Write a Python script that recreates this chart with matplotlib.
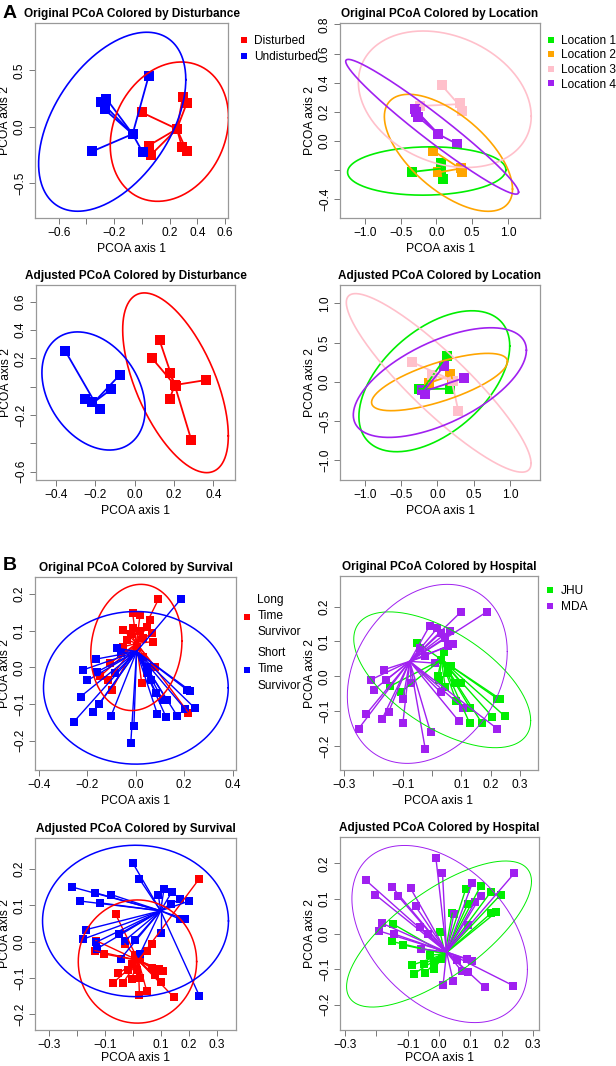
import numpy as np
import matplotlib.pyplot as plt
from matplotlib.lines import Line2D

plt.rcParams['font.family'] = ['Liberation Sans', 'DejaVu Sans']

RED = '#FF0000'
BLUE = '#0000FF'
GREEN = '#00EE00'
ORANGE = '#FFA500'
PINK = '#FFC0CB'
PURPLE = '#A020F0'

# ---- panel A, original PCoA ----
a1_disturbed = [(0.000, 0.126), (0.252, -0.020), (0.295, 0.265), (0.324, 0.212),
                (0.048, -0.168), (0.065, -0.250), (0.288, -0.176), (0.324, -0.220)]
a1_undisturbed = [(0.048, 0.447), (-0.293, 0.220), (-0.257, 0.250), (-0.269, 0.153),
                  (-0.067, -0.065), (-0.360, -0.220), (0.005, -0.226)]
a1_centers = [(0.252, -0.020), (-0.067, -0.065)]
# ellipse: centre x, centre y, half range x, half range y, correlation
a1_ellipses = [(0.198, -0.044, 0.426, 0.618, 0.20), (-0.214, 0.044, 0.530, 0.794, 0.47)]

a2_loc1 = [(-0.336, -0.213), (0.065, -0.153), (0.098, -0.259), (0.070, -0.190)]
a2_loc2 = [(-0.042, -0.069), (0.028, -0.217), (0.346, -0.183), (0.364, -0.213)]
a2_loc3 = [(0.075, 0.382), (0.332, 0.263), (0.355, 0.206), (-0.229, 0.240)]
a2_loc4 = [(-0.299, 0.217), (-0.262, 0.167), (-0.280, 0.200), (0.028, 0.046), (0.294, -0.023)]
a2_centers = [(0.075, -0.190), (0.332, -0.190), (0.308, 0.252), (0.028, 0.046)]
a2_ellipses = [(-0.136, -0.207, 1.108, 0.166, 0.05), (0.168, -0.082, 0.897, 0.402, -0.62),
               (0.117, 0.286, 1.210, 0.469, -0.25), (-0.060, 0.097, 1.210, 0.463, -0.97)]

# ---- panel A, adjusted PCoA (same samples, two groupings) ----
adj_x = [-0.351, -0.076, -0.119, -0.249, -0.215, -0.175,
         0.127, 0.090, 0.178, 0.212, 0.361, 0.178, 0.288, 0.204]
adj_y = [0.252, 0.082, -0.019, -0.089, -0.111, -0.160,
         0.329, 0.200, 0.099, 0.007, 0.047, -0.089, -0.376, 0.012]
adj_disturbance = ['U', 'U', 'U', 'U', 'U', 'U', 'D', 'D', 'D', 'D', 'D', 'D', 'D', 'D']
adj_location = [3, 3, 2, 1, 4, 4, 1, 4, 2, 3, 4, 1, 3, 2]
a3_centers = [(0.204, 0.012), (-0.203, -0.106)]
a3_ellipses = [(0.208, 0.028, 0.268, 0.636, -0.59), (-0.208, -0.030, 0.262, 0.418, -0.31)]
a4_centers = [(-0.196, -0.094), (0.193, 0.085), (0.193, 0.021), (-0.196, -0.128)]
a4_ellipses = [(-0.043, 0.006, 1.037, 0.900, 0.50), (0.028, -0.004, 0.934, 0.366, 0.71),
               (0.017, -0.015, 1.270, 1.140, -0.90), (0.033, -0.011, 1.190, 0.700, 0.59)]

# ---- panel B, original PCoA ----
b1_long = [(0.094, 0.185), (0.218, -0.124), (-0.012, 0.147), (0.018, 0.143), (0.059, 0.129),
           (-0.051, 0.102), (-0.009, 0.106), (0.066, 0.093), (0.032, 0.079), (-0.037, 0.075),
           (0.004, 0.056), (0.073, 0.070), (-0.050, 0.056), (0.045, 0.111), (0.032, 0.029),
           (-0.105, 0.011), (-0.147, -0.025), (-0.099, -0.062), (-0.112, -0.035), (0.080, 0.002),
           (0.025, -0.044), (0.046, -0.016), (-0.020, 0.090), (0.020, 0.100)]
b1_short = [(0.187, 0.186), (-0.078, 0.052), (-0.165, 0.022), (-0.216, -0.007), (-0.199, -0.036),
            (-0.158, -0.012), (-0.227, -0.080), (-0.254, -0.148), (-0.174, -0.121), (-0.149, -0.100),
            (-0.101, -0.132), (-0.007, -0.159), (-0.020, -0.207), (0.090, -0.128), (0.125, -0.135),
            (0.172, -0.133), (0.112, -0.089), (0.128, -0.089), (0.084, -0.069), (0.204, -0.114),
            (0.245, -0.112), (0.213, -0.062), (0.225, -0.064), (0.053, -0.016), (0.064, -0.035),
            (-0.060, 0.040), (-0.085, -0.016), (0.046, 0.002)]
b1_centers = [(0.004, 0.065), (0.004, 0.043)]
b1_ellipses = [(0.003, 0.054, 0.188, 0.172, 0.10), (0.001, -0.056, 0.381, 0.208, 0.0)]

b2_jhu = [(-0.050, 0.097), (0.032, 0.048), (0.040, 0.070), (0.055, 0.010), (0.020, 0.000),
          (0.025, -0.010), (-0.144, -0.029), (-0.107, -0.046), (0.077, -0.019), (0.083, -0.071),
          (0.129, -0.090), (0.129, -0.135), (0.171, -0.135), (0.206, -0.116), (0.248, -0.114),
          (0.223, -0.064), (0.231, -0.064), (0.065, 0.030), (0.100, -0.020), (0.045, -0.030)]
b2_mda = [(0.189, 0.186), (0.098, 0.184), (-0.008, 0.145), (0.018, 0.138), (0.060, 0.131),
          (0.043, 0.110), (0.072, 0.093), (0.055, 0.086), (-0.025, 0.057), (0.009, 0.038),
          (-0.164, 0.019), (-0.209, -0.010), (-0.156, -0.010), (-0.198, -0.038), (-0.071, -0.019),
          (-0.099, -0.064), (0.030, -0.046), (-0.148, -0.102), (-0.224, -0.108), (-0.171, -0.124),
          (-0.250, -0.150), (-0.099, -0.133), (-0.005, -0.160), (-0.023, -0.208), (0.092, -0.129),
          (0.106, -0.090), (0.222, -0.150), (0.030, 0.125), (-0.040, 0.080)]
b2_centers = [(0.032, 0.048), (-0.076, 0.043)]
b2_ellipses = [(0.035, -0.010, 0.302, 0.195, -0.60), (-0.016, 0.007, 0.273, 0.257, 0.25)]

# ---- panel B, adjusted PCoA ----
b3_long = [(0.238, 0.174), (-0.062, 0.075), (-0.133, 0.003), (-0.136, -0.025), (-0.104, -0.034),
           (-0.029, -0.006), (0.067, -0.006), (0.049, -0.025), (0.025, -0.047), (-0.005, -0.061),
           (-0.017, -0.079), (0.013, -0.079), (-0.053, -0.088), (-0.070, -0.113), (-0.035, -0.113),
           (-0.005, -0.102), (0.025, -0.100), (0.049, -0.136), (0.023, -0.147), (0.094, -0.075),
           (0.109, -0.082), (0.079, -0.093), (0.099, -0.111), (0.147, -0.154), (0.067, -0.073),
           (0.007, -0.038)]
b3_short = [(0.000, 0.216), (0.022, 0.174), (-0.220, 0.151), (-0.190, 0.112), (-0.136, 0.135),
            (-0.118, 0.107), (-0.079, 0.130), (0.091, 0.128), (0.111, 0.145), (0.139, 0.137),
            (0.135, 0.105), (0.168, 0.118), (0.202, 0.112), (0.168, 0.062), (0.186, 0.062),
            (0.099, 0.025), (0.238, -0.150), (-0.168, 0.033), (-0.178, 0.007), (-0.133, -0.002),
            (-0.130, -0.020), (-0.049, 0.021), (-0.029, 0.003), (0.007, 0.005), (-0.044, -0.047),
            (0.025, -0.034)]
b3_centers = [(0.019, -0.052), (0.099, 0.085)]
b3_ellipses = [(0.016, -0.055, 0.212, 0.170, 0.0), (0.009, 0.057, 0.333, 0.209, 0.0)]

b4_jhu = [(0.085, 0.127), (0.133, 0.137), (0.165, 0.119), (0.197, 0.112), (0.091, 0.084),
          (0.167, 0.060), (0.183, 0.062), (0.042, 0.059), (-0.146, 0.028), (0.003, 0.007),
          (-0.151, -0.021), (-0.114, -0.031), (-0.086, -0.088), (-0.047, -0.084), (-0.079, -0.112),
          (-0.045, -0.110), (-0.015, -0.098), (-0.015, -0.079), (-0.029, -0.060), (0.010, -0.070)]
b4_mda = [(-0.010, 0.216), (0.011, 0.174), (-0.233, 0.152), (-0.204, 0.112), (-0.149, 0.133),
          (-0.130, 0.107), (-0.091, 0.130), (-0.075, 0.079), (0.106, 0.144), (0.133, 0.107),
          (0.114, 0.090), (0.240, 0.172), (0.093, 0.025), (0.047, 0.056), (-0.183, 0.031),
          (-0.192, 0.009), (-0.143, 0.000), (-0.061, 0.019), (-0.034, 0.000), (-0.056, -0.042),
          (0.013, -0.144), (0.045, -0.133), (0.146, -0.151), (0.236, -0.146), (0.088, -0.070),
          (0.104, -0.077), (0.056, -0.074), (0.072, -0.105), (0.091, -0.109)]
b4_centers = [(0.019, -0.056), (0.024, -0.051)]
b4_ellipses = [(0.0, 0.0, 0.295, 0.207, 0.72), (0.002, 0.0, 0.280, 0.251, -0.40)]


fig = plt.figure(figsize=(6.16, 10.66), dpi=100)


def rect(l, t, r, b):                      # pixel box -> figure fraction
    return [l / 616, 1 - b / 1066, (r - l) / 616, (b - t) / 1066]


def ellipse(ell):
    cx, cy, sx, sy, rho = ell
    t = np.linspace(0, 2 * np.pi, 300)
    return cx + sx * np.cos(t), cy + sy * np.cos(t - np.arccos(rho))


def panel(box, title, groups, xlim, ylim, xt, xl, yt, yl, ms, lw_sp, lw_el, xpad=3):
    ax = fig.add_axes(rect(*box))
    for pts, c, cen, ell in groups:              # points first, like R
        p = np.array(pts)
        ax.plot(p[:, 0], p[:, 1], 's', color=c, ms=ms, mew=0, zorder=2)
    for pts, c, cen, ell in groups:              # spider lines to group centre
        for x, y in pts:
            ax.plot([cen[0], x], [cen[1], y], color=c, lw=lw_sp, zorder=3)
    for pts, c, cen, ell in groups:
        ex, ey = ellipse(ell)
        ax.plot(ex, ey, color=c, lw=lw_el, zorder=4)
    ax.set_xlim(xlim)
    ax.set_ylim(ylim)
    ax.set_xticks(xt)
    ax.set_xticklabels(xl)
    ax.set_yticks(yt)
    ax.set_yticklabels(yl, rotation=90, va='center')
    ax.tick_params(direction='out', length=4, width=0.7, color='#777777',
                   labelsize=8.6, pad=2.5)
    for s in ax.spines.values():
        s.set_color('#999999')
        s.set_linewidth(0.9)
    ax.set_xlabel('PCOA axis 1', fontsize=8.7, labelpad=xpad)
    ax.set_ylabel('PCOA axis 2', fontsize=8.7, labelpad=2)
    ax.set_title(title, fontsize=8.5, fontweight='bold', pad=4)
    return ax


def legend(ax, labels, colors, bx, by, sp):
    h = [Line2D([], [], marker='s', ls='', color=c, ms=4.8, mew=0) for c in colors]
    return ax.legend(h, labels, loc='upper left', bbox_to_anchor=(bx, by), frameon=False,
                     fontsize=8.6, handlelength=0.6, handletextpad=0.6, borderaxespad=0,
                     borderpad=0, labelspacing=sp)


def lab(ticks, hide=()):
    return ['' if i in hide else ('%.1f' % t).replace('-', '\u2212') for i, t in enumerate(ticks)]


t6 = [-0.6, -0.4, -0.2, 0.0, 0.2, 0.4, 0.6]
t4 = [-0.4, -0.2, 0.0, 0.2, 0.4]
t3 = [-0.3, -0.2, -0.1, 0.0, 0.1, 0.2, 0.3]
t2 = [-0.2, -0.1, 0.0, 0.1, 0.2]
t10 = [-1.0, -0.5, 0.0, 0.5, 1.0]

# A1
ax = panel((35, 23, 228, 218), 'Original PCoA Colored by Disturbance',
           [(a1_disturbed, RED, a1_centers[0], a1_ellipses[0]),
            (a1_undisturbed, BLUE, a1_centers[1], a1_ellipses[1])],
           (-0.77, 0.62), (-0.81, 0.92), t6, lab(t6, (1, 3)),
           [-0.5, 0.0, 0.5], lab([-0.5, 0.0, 0.5]), 7.2, 1.3, 1.2)
legend(ax, ['Disturbed', 'Undisturbed'], [RED, BLUE], 1.062, 0.94, 0.38)

# A2
a2_yt = [-0.4, -0.2, 0.0, 0.2, 0.4, 0.6, 0.8]
ax = panel((340, 23, 540, 218), 'Original PCoA Colored by Location',
           [(a2_loc1, GREEN, a2_centers[0], a2_ellipses[0]),
            (a2_loc2, ORANGE, a2_centers[1], a2_ellipses[1]),
            (a2_loc3, PINK, a2_centers[2], a2_ellipses[2]),
            (a2_loc4, PURPLE, a2_centers[3], a2_ellipses[3])],
           (-1.35, 1.45), (-0.53, 0.81), t10, lab(t10),
           a2_yt, lab(a2_yt, (1,)), 7.2, 1.3, 1.2)
legend(ax, ['Location 1', 'Location 2', 'Location 3', 'Location 4'],
       [GREEN, ORANGE, PINK, PURPLE], 1.035, 0.94, 0.22)

# A3 / A4 use the same adjusted coordinates
adj_pts = list(zip(adj_x, adj_y))
a3_groups = []
for i, (g, c) in enumerate([('D', RED), ('U', BLUE)]):
    pts = [p for p, d in zip(adj_pts, adj_disturbance) if d == g]
    a3_groups.append((pts, c, a3_centers[i], a3_ellipses[i]))
panel((36, 285, 235, 480), 'Adjusted PCoA Colored by Disturbance', a3_groups,
      (-0.50, 0.51), (-0.66, 0.72), t4, lab(t4),
      t6, lab(t6, (1, 3)), 7.2, 1.3, 1.2)

a4_groups = []
for i, c in enumerate([GREEN, ORANGE, PINK, PURPLE]):
    pts = [p for p, d in zip(adj_pts, adj_location) if d == i + 1]
    a4_groups.append((pts, c, a4_centers[i], a4_ellipses[i]))
panel((340, 285, 540, 480), 'Adjusted PCoA Colored by Location', a4_groups,
      (-1.34, 1.41), (-1.255, 1.235), t10, lab(t10),
      t10, lab(t10), 7.2, 1.3, 1.2)

# B1
ax = panel((35, 577, 236, 770), 'Original PCoA Colored by Survival',
           [(b1_long, RED, b1_centers[0], b1_ellipses[0]),
            (b1_short, BLUE, b1_centers[1], b1_ellipses[1])],
           (-0.415, 0.414), (-0.28, 0.246), t4, lab(t4),
           t2, lab(t2), 5.6, 1.0, 1.1)
leg = legend(ax, ['Long\nTime\nSurvivor', 'Short\nTime\nSurvivor'], [RED, BLUE],
             1.035, 0.91, 0.75)
for t in leg.get_texts():
    t.set_linespacing(1.45)

# B2
ax = panel((340, 576, 538, 770), 'Original PCoA Colored by Hospital',
           [(b2_jhu, GREEN, b2_centers[0], b2_ellipses[0]),
            (b2_mda, PURPLE, b2_centers[1], b2_ellipses[1])],
           (-0.314, 0.362), (-0.269, 0.288), t3, lab(t3, (1, 3)),
           t2, lab(t2), 5.6, 1.0, 0.7)
legend(ax, ['JHU', 'MDA'], [GREEN, PURPLE], 1.045, 0.955, 0.35)

# B3
panel((35, 838, 236, 1030), 'Adjusted PCoA Colored by Survival',
      [(b3_long, RED, b3_centers[0], b3_ellipses[0]),
       (b3_short, BLUE, b3_centers[1], b3_ellipses[1])],
      (-0.351, 0.369), (-0.244, 0.286), t3, lab(t3, (1, 3)),
      t2, lab(t2), 5.6, 1.0, 1.1, xpad=0.5)

# B4
panel((340, 837, 539, 1030), 'Adjusted PCoA Colored by Hospital',
      [(b4_jhu, GREEN, b4_centers[0], b4_ellipses[0]),
       (b4_mda, PURPLE, b4_centers[1], b4_ellipses[1])],
      (-0.316, 0.319), (-0.272, 0.275), t3, lab(t3, (1,)),
      t2, lab(t2), 5.6, 1.0, 0.7, xpad=0.5)

fig.text(3 / 616, 1 - 14 / 1066, 'A', fontsize=14, fontweight='bold', va='center')
fig.text(3 / 616, 1 - 566 / 1066, 'B', fontsize=14, fontweight='bold', va='center')

fig.savefig('out.png', dpi=100)
